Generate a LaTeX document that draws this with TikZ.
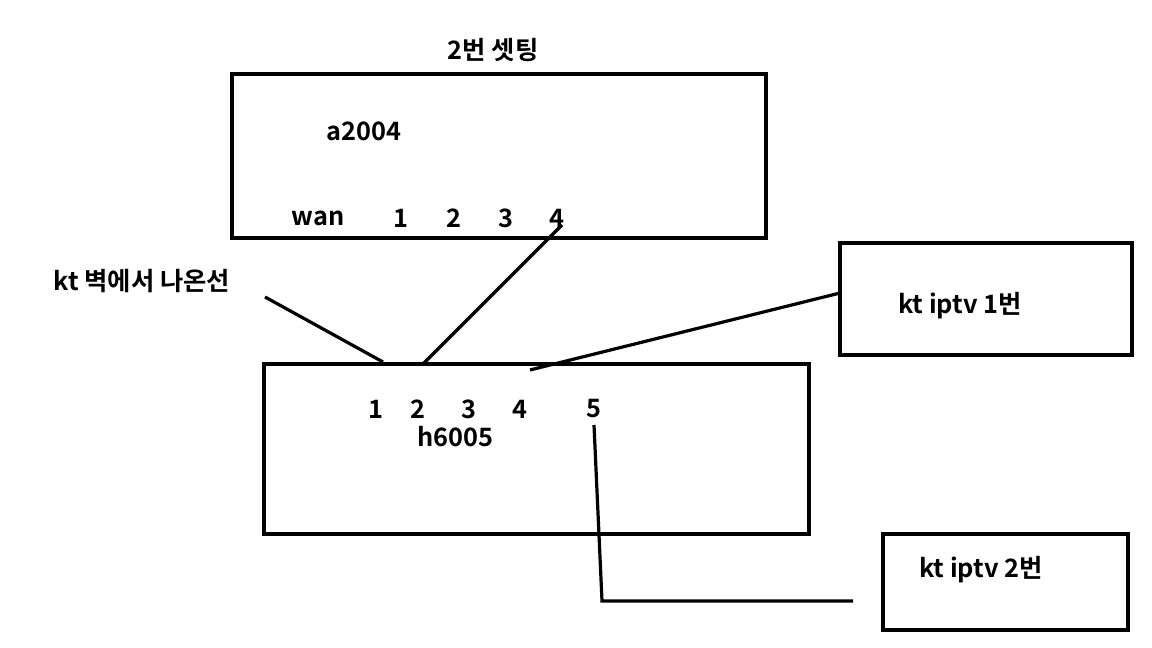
\documentclass[tikz,border=0pt]{standalone}
\usepackage{fontspec}
\setmainfont{Noto Sans CJK KR}[BoldFont={* Bold}]
\begin{document}
\begin{tikzpicture}[x=0.75pt,y=-0.75pt,
  box/.style={draw,line width=2.4pt},
  lbl/.style={font=\bfseries\fontsize{19}{22}\selectfont,inner sep=0pt},
  wire/.style={line width=2.4pt}]
\useasboundingbox[fill=white] (0,0) rectangle (1152,648);
\draw[box] (232,74) rectangle (766,238);
\draw[box] (840,243) rectangle (1132,355);
\draw[box] (264,364) rectangle (809,534);
\draw[box] (883,534) rectangle (1128,630);
\node[lbl] (t) at (493,50) {2번 셋팅};
\node[lbl] (a) at (364,131) {a2004};
\node[lbl] (wan) at (318,218) {wan};
\node[lbl] (a1) at (401,218) {1};
\node[lbl] (a2) at (454,218) {2};
\node[lbl] (a3) at (506,218) {3};
\node[lbl] (a4) at (557,218) {4};
\node[lbl] (kt) at (142,281) {kt 벽에서 나온선};
\node[lbl] (i1) at (960,306) {kt iptv 1번};
\node[lbl] (h1) at (376,409) {1};
\node[lbl] (h2) at (418,409) {2};
\node[lbl] (h3) at (469,409) {3};
\node[lbl] (h4) at (520,409) {4};
\node[lbl] (h5) at (594,409) {5};
\node[lbl] (h) at (455,437) {h6005};
\node[lbl] (i2) at (981,570) {kt iptv 2번};
\coordinate (w1) at (265,297);
\coordinate (w2) at (383,362);
\coordinate (p1) at (422,365);
\coordinate (p2) at (562,225);
\coordinate (q1) at (840,293);
\coordinate (q2) at (530,370);
\coordinate (r1) at (594,425);
\coordinate (r2) at (602,601);
\coordinate (r3) at (853,601);
\draw[wire] (w1) -- (w2);
\draw[wire] (p1) -- (p2);
\draw[wire] (q1) -- (q2);
\draw[wire] (r1) -- (r2) -- (r3);
\end{tikzpicture}
\end{document}
